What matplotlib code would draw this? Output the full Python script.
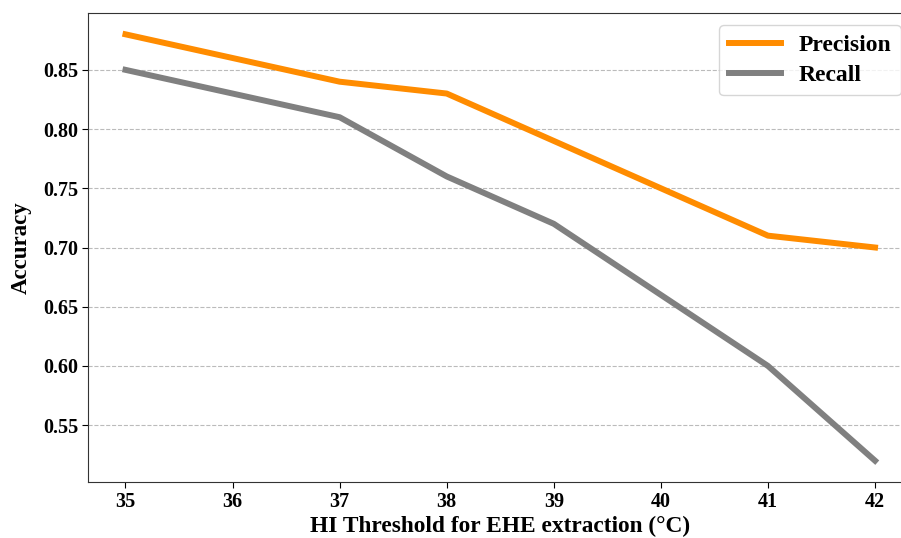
import matplotlib
matplotlib.use("Agg")
import matplotlib.pyplot as plt

thresholds = [35, 36, 37, 38, 39, 40, 41, 42]
precision = [0.88, 0.86, 0.84, 0.83, 0.79, 0.75, 0.71, 0.70]
recall = [0.85, 0.83, 0.81, 0.76, 0.72, 0.66, 0.60, 0.52]

plt.rcParams['font.family'] = ['Liberation Serif', 'DejaVu Serif']
plt.rcParams['font.weight'] = 'bold'

fig = plt.figure(figsize=(9.01, 5.38), dpi=100)
ax = fig.add_axes([88/901, 56/538, (912.5-88)/901, (482-13)/538])

ax.plot(thresholds, precision, color='#ff8c00', lw=4.3, label='Precision')
ax.plot(thresholds, recall, color='#808080', lw=4.3, label='Recall')

ax.set_yticks([0.55, 0.60, 0.65, 0.70, 0.75, 0.80, 0.85])
ax.set_xticks(thresholds)
ax.tick_params(labelsize=14.5, length=4, pad=3)
for lab in ax.get_xticklabels() + ax.get_yticklabels():
    lab.set_fontweight('bold')
ax.grid(axis='y', linestyle='--', color='#bbbbbb', lw=0.8)
ax.set_axisbelow(True)
for s in ax.spines.values():
    s.set_color('#333333')

ax.set_xlabel('HI Threshold for EHE extraction (°C)', fontsize=16.8, fontweight='bold', labelpad=3)
ax.set_ylabel('Accuracy', fontsize=16.5, fontweight='bold', labelpad=8)

leg = ax.legend(loc='upper right', prop={'weight': 'bold', 'size': 17},
                handlelength=2.2, labelspacing=0.37, borderpad=0.4, handletextpad=0.75)

fig.savefig('out.png', dpi=100)
